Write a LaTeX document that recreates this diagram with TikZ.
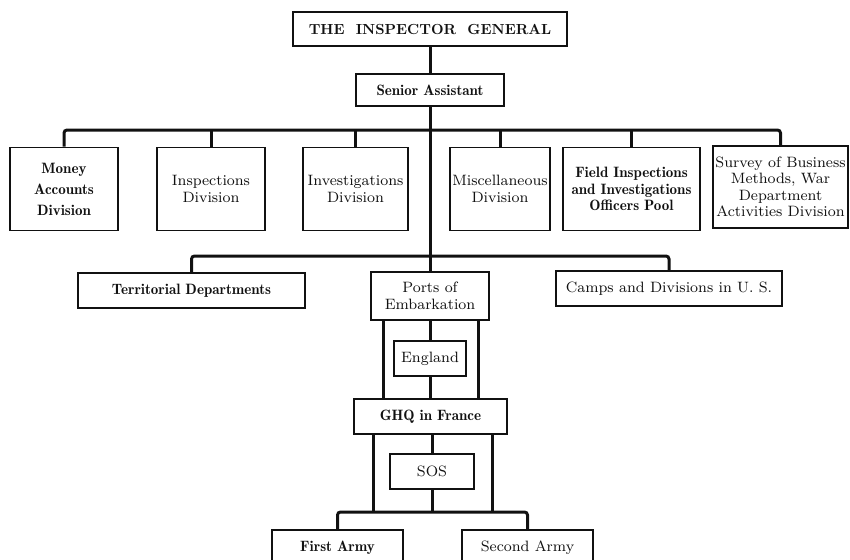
\documentclass[tikz,border=0pt]{standalone}
\usepackage{fontspec}
\usepackage{tikz}
\usetikzlibrary{calc}
\setmainfont{lmroman8-regular.otf}[BoldFont=lmroman10-bold.otf]
\newfontfamily\demifont{lmromandemi10-regular.otf}
\definecolor{Ink}{HTML}{111111}
\tikzset{
  orgbox/.style={
    draw=Ink,
    line width=1.6pt,
    align=center,
    inner sep=2pt,
    text=Ink,
    font=\fontsize{15}{16.5}\selectfont
  },
  headbox/.style={orgbox, line width=1.8pt, font=\fontsize{14.6}{17}\selectfont\bfseries},
  demibox/.style={orgbox, font=\fontsize{15}{16.5}\selectfont\demifont},
  link/.style={draw=Ink, line width=3pt, rounded corners=3pt}
}

\begin{document}
\begin{tikzpicture}[x=1pt,y=-1pt]
  \useasboundingbox (0,0) rectangle (850,559);

  % head of the office
  \node[headbox, minimum width=274pt, minimum height=34pt] (ig) at (430,29) {THE\ \ INSPECTOR\ \ GENERAL};
  \node[demibox, minimum width=148pt, minimum height=32pt] (sa) at (430,90) {Senior Assistant};

  % divisions
  \node[demibox, minimum width=108pt, minimum height=83pt,
        font=\fontsize{15}{21}\selectfont\demifont] (money) at (64,189) {Money\\Accounts\\Division};
  \node[orgbox, minimum width=108pt, minimum height=83pt] (insp) at (211,189) {Inspections\\Division};
  \node[orgbox, minimum width=105pt, minimum height=83pt] (invest) at (355.5,189) {Investigations\\Division};
  \node[orgbox, minimum width=100pt, minimum height=83pt] (misc) at (500,189) {Miscellaneous\\Division};
  \node[demibox, minimum width=137pt, minimum height=83pt] (field) at (631.5,189) {Field Inspections\\and Investigations\\Officers Pool};
  \node[orgbox, minimum width=135pt, minimum height=82pt] (survey) at (780.5,187) {Survey of Business\\Methods, War\\Department\\Activities Division};

  % field organisation
  \node[demibox, minimum width=227pt, minimum height=35pt] (terr) at (191.5,290.5) {Territorial Departments};
  \node[orgbox, minimum width=118pt, minimum height=48pt] (ports) at (430,296) {Ports of\\Embarkation};
  \node[orgbox, minimum width=226pt, minimum height=35pt] (camps) at (669,288.5) {Camps and Divisions in U. S.};

  \node[orgbox, minimum width=72pt, minimum height=35pt] (england) at (430,358.5) {England};
  \node[demibox, minimum width=153pt, minimum height=35pt] (ghq) at (430.5,416.5) {GHQ in France};
  \node[orgbox, minimum width=84pt, minimum height=35pt] (sos) at (432,471.5) {SOS};

  \node[demibox, minimum width=131pt, minimum height=36pt] (first) at (337.5,548) {First Army};
  \node[orgbox, minimum width=131pt, minimum height=36pt] (second) at (527.5,548) {Second Army};

  % bus lines
  \coordinate (divbus) at (430,130);
  \coordinate (fieldbus) at (430,256);
  \coordinate (armybus) at (432,512);

  \draw[link] (ig.south) -- (sa.north);
  \draw[link] (sa.south) -- (ports.north);

  \draw[link] (money.north) |- (divbus) -| (survey.north);
  \foreach \d in {insp,invest,misc,field}
    \draw[link] (\d.north) -- (\d.north |- divbus);

  \draw[link] (terr.north) |- (fieldbus) -| (camps.north);

  \draw[link] (ports.south) -- (england.north);
  \draw[link] (england.south) -- (england.south |- ghq.north);
  \draw[link] ([xshift=-47pt]ports.south) -- ([xshift=-47pt]ports.south |- ghq.north);
  \draw[link] ([xshift=48pt]ports.south) -- ([xshift=48pt]ports.south |- ghq.north);

  \draw[link] (ghq.south -| sos.north) -- (sos.north);
  \draw[link] (sos.south) -- (armybus);
  \draw[link] ([xshift=-57.5pt]ghq.south) -- ([xshift=-57.5pt]ghq.south |- armybus);
  \draw[link] ([xshift=61.5pt]ghq.south) -- ([xshift=61.5pt]ghq.south |- armybus);
  \draw[link] (first.north) |- (armybus) -| (second.north);
\end{tikzpicture}
\end{document}
